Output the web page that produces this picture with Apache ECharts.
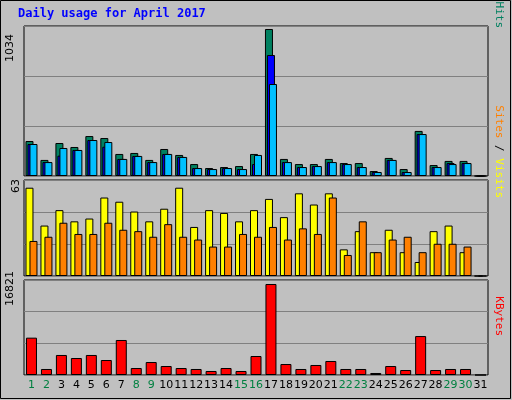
<!DOCTYPE html>
<html><head><meta charset="utf-8">
<script src="https://cdn.jsdelivr.net/npm/echarts@6/dist/echarts.min.js"></script>
<style>html,body{margin:0;padding:0;background:#c0c0c0}#c{width:512px;height:400px}</style>
</head><body><div id="c"></div>
<script>
const days = Array.from({length:31},(_,i)=>String(i+1));
const weekend = ['1','2','8','9','15','16','22','23','29','30'];
const hits  = [246,113,232,204,281,267,155,162,113,190,148,84,56,63,70,155,1034,120,84,84,120,91,91,35,127,49,317,77,106,106,0];
const files = [225,98,143,183,253,206,120,141,98,155,134,56,49,56,49,84,851,98,63,70,98,84,63,28,113,28,295,63,91,91,0];
const pages = [225,98,197,183,253,239,120,141,98,155,134,56,49,56,49,148,647,98,63,70,98,84,63,28,113,28,295,63,84,91,0];
const visits= [63,36,47,39,41,56,53,46,39,48,63,35,47,45,39,47,55,42,59,51,59,19,32,17,33,17,10,32,36,17,0];
const sites = [25,28,38,30,30,38,33,32,28,37,28,26,21,21,30,28,35,26,34,30,56,15,39,17,26,28,17,23,23,21,0];
const kbytes= [6900,1110,3700,3140,3700,2770,6470,1290,2400,1660,1290,1110,740,1290,740,3510,16821,2030,1110,1850,2590,1110,1110,370,1660,920,7200,920,1110,1110,0];
const maxLabels = ['1034','63','16821'];

const chart = echarts.init(document.getElementById('c'));
const grids = [
  {left:24,width:464,top:26,height:150},
  {left:24,width:464,top:180,height:96},
  {left:24,width:464,top:280,height:95}
].map(g=>Object.assign(g,{show:true,borderColor:'#000',borderWidth:1,backgroundColor:'#c0c0c0'}));
const maxes=[1055,68.5,17560];
const xAxes=[0,1,2].map(i=>({type:'category',gridIndex:i,data:days,axisLine:{show:false},axisTick:{show:false},
  axisLabel:{show:i===2,interval:0,margin:5,fontFamily:'DejaVu Sans',fontSize:11,
    formatter:v=>weekend.includes(v)?'{w|'+v+'}':'{n|'+v+'}',rich:{w:{color:'#008040',fontSize:11},n:{color:'#000',fontSize:11}}}}));
const yAxes=[0,1,2].map(i=>({type:'value',gridIndex:i,min:0,max:maxes[i],interval:maxes[i]/3,axisLabel:{show:false},
  axisLine:{show:false},axisTick:{show:false},splitLine:{lineStyle:{color:'#808080',width:1}}}));
const bs=(name,data,color,xi,w,gap)=>({name,type:'bar',data,xAxisIndex:xi,yAxisIndex:xi,barWidth:w,barGap:gap,
  itemStyle:{color,borderColor:'#000',borderWidth:1},animation:false});
chart.setOption({
  backgroundColor:'#c0c0c0',animation:false,
  grid:grids,xAxis:xAxes,yAxis:yAxes,
  series:[
    bs('Hits',hits,'#008060',0,8,'-75%'),
    bs('Files',files,'#0000ff',0,8,'-75%'),
    bs('Pages',pages,'#00c0ff',0,8,'-75%'),
    bs('Visits',visits,'#ffff00',1,8,'-50%'),
    bs('Sites',sites,'#ff8000',1,8,'-50%'),
    bs('KBytes',kbytes,'#ff0000',2,11,'-50%')
  ],
  graphic:[
    {type:'rect',shape:{x:0.5,y:0.5,width:510,height:398},style:{fill:null,stroke:'#000',lineWidth:1}},
    {type:'text',left:18,top:8,style:{text:'Daily usage for April 2017',fill:'#0000ff',font:'bold 12px "DejaVu Sans Mono"'}},
    {type:'text',x:10,y:62,rotation:Math.PI/2,style:{text:maxLabels[0],fill:'#000',font:'11px "DejaVu Sans"',align:'left',verticalAlign:'middle'}},
    {type:'text',x:16,y:193,rotation:Math.PI/2,style:{text:maxLabels[1],fill:'#000',font:'11px "DejaVu Sans"',align:'left',verticalAlign:'middle'}},
    {type:'text',x:10,y:306,rotation:Math.PI/2,style:{text:maxLabels[2],fill:'#000',font:'11px "DejaVu Sans"',align:'left',verticalAlign:'middle'}},
    {type:'text',x:499,y:28,rotation:-Math.PI/2,style:{text:'{p|Pages}{s| / }{f|Files}{s| / }{h|Hits}',align:'right',verticalAlign:'middle',
      rich:{p:{fill:'#00c0ff',font:'11px "DejaVu Sans Mono"'},f:{fill:'#0000ff',font:'11px "DejaVu Sans Mono"'},h:{fill:'#008060',font:'11px "DejaVu Sans Mono"'},s:{fill:'#000',font:'11px "DejaVu Sans Mono"'}}}},
    {type:'text',x:499,y:198,rotation:-Math.PI/2,style:{text:'{a|Sites}{s| / }{b|Visits}',align:'right',verticalAlign:'middle',
      rich:{a:{fill:'#ff8000',font:'11px "DejaVu Sans Mono"'},b:{fill:'#ffff00',font:'11px "DejaVu Sans Mono"'},s:{fill:'#000',font:'11px "DejaVu Sans Mono"'}}}},
    {type:'text',x:499,y:336,rotation:-Math.PI/2,style:{text:'KBytes',fill:'#ff0000',font:'11px "DejaVu Sans Mono"',align:'right',verticalAlign:'middle'}}
  ]
});
</script></body></html>
